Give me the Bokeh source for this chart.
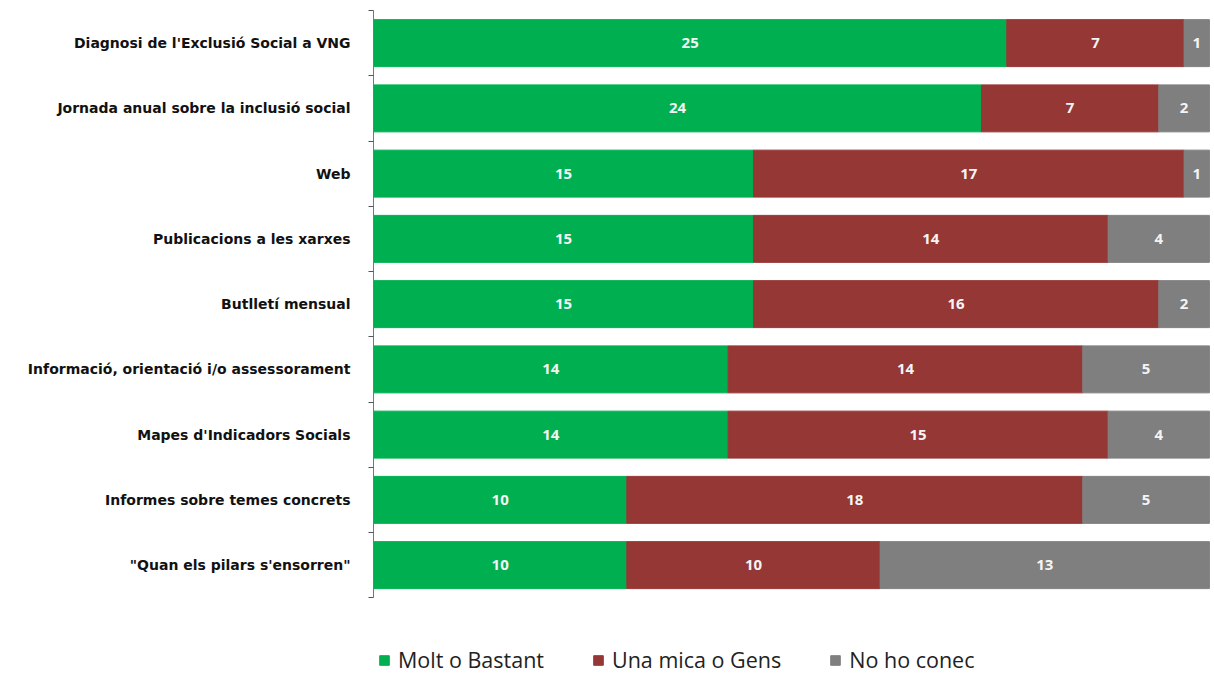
from bokeh.plotting import figure
from bokeh.models import ColumnDataSource, FixedTicker, Legend, LegendItem
from bokeh.core.properties import value
from bokeh.embed import file_html
from bokeh.resources import INLINE

categories = [
    "Diagnosi de l'Exclusió Social a VNG",
    "Jornada anual sobre la inclusió social",
    "Web",
    "Publicacions a les xarxes",
    "Butlletí mensual",
    "Informació, orientació i/o assessorament",
    "Mapes d'Indicadors Socials",
    "Informes sobre temes concrets",
    "\"Quan els pilars s'ensorren\"",
]
molt_o_bastant = [25, 24, 15, 15, 15, 14, 14, 10, 10]
una_mica_o_gens = [7, 7, 17, 14, 16, 14, 15, 18, 10]
no_ho_conec = [1, 2, 1, 4, 2, 5, 4, 5, 13]
series_names = ["Molt o Bastant", "Una mica o Gens", "No ho conec"]
colors = ["#00B050", "#953735", "#7F7F7F"]

n = len(categories)
ypos = [n - i - 0.5 for i in range(n)]

# frame covers the full height; the extra space below the bars holds the legend
p = figure(width=1214, height=674, output_backend="svg", toolbar_location=None,
           x_range=(0, 33.2), y_range=(n - 664 / 65.25, n),
           min_border_left=373, min_border_right=0, min_border_top=10, min_border_bottom=0)
p.outline_line_color = None
p.xgrid.visible = False
p.ygrid.visible = False
p.xaxis.visible = False

series = [molt_o_bastant, una_mica_o_gens, no_ho_conec]
renderers = []
left = [0] * n
lab_x, lab_y, lab_t = [], [], []
for vals, col in zip(series, colors):
    right = [l + v for l, v in zip(left, vals)]
    src = ColumnDataSource(dict(y=ypos, left=left, right=right))
    r = p.hbar(y="y", left="left", right="right", height=0.72, source=src,
               fill_color=col, line_color=col)
    renderers.append(r)
    for i in range(n):
        lab_x.append((left[i] + right[i]) / 2)
        lab_y.append(ypos[i])
        lab_t.append(str(vals[i]))
    left = right

lsrc = ColumnDataSource(dict(x=lab_x, y=lab_y, t=lab_t))
p.text(x="x", y="y", text="t", source=lsrc, text_color="#F4F4F4",
       text_align="center", text_baseline="middle",
       text_font=value("Open Sans"), text_font_size="15px", text_font_style="bold")

ax = p.yaxis[0]
ax.bounds = (0, n)
ax.ticker = FixedTicker(ticks=ypos, minor_ticks=list(range(n + 1)))
ax.major_label_overrides = {y: c for y, c in zip(ypos, categories)}
ax.major_tick_line_color = None
ax.major_tick_out = 0
ax.major_tick_in = 0
ax.minor_tick_line_color = "#555555"
ax.minor_tick_out = 5
ax.minor_tick_in = 0
ax.axis_line_color = "#777777"
ax.major_label_standoff = 18
ax.major_label_text_font = "DejaVu Sans"
ax.major_label_text_font_style = "bold"
ax.major_label_text_font_size = "14px"
ax.major_label_text_color = "#111111"

legend = Legend(items=[LegendItem(label=nm, renderers=[r]) for nm, r in zip(series_names, renderers)],
                orientation="horizontal", location=(5, 0),
                glyph_width=12, glyph_height=12, spacing=48, padding=0, margin=0,
                label_text_font="Open Sans", label_text_font_size="21.5px",
                label_text_color="#222222", border_line_color=None,
                background_fill_alpha=0, label_standoff=8)
p.add_layout(legend, "center")

open("out.html", "w").write(file_html(p, INLINE))
